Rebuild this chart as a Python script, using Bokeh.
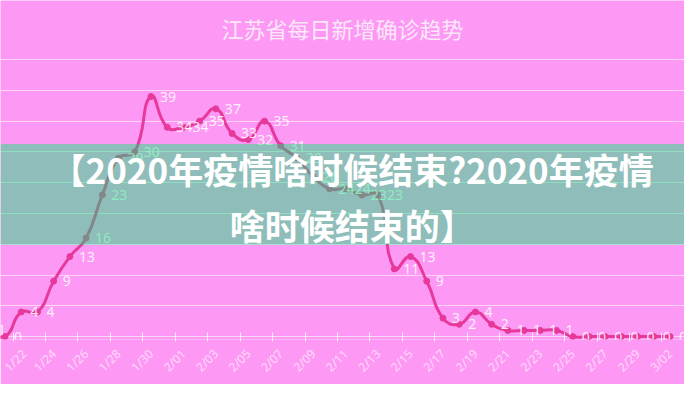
import math
import numpy as np
from bokeh.plotting import figure
from bokeh.models import FixedTicker, BoxAnnotation, Label, Range1d, ColumnDataSource
from bokeh.embed import file_html
from bokeh.resources import INLINE
from bokeh.core.properties import value

# ---------------- data ----------------
dates = ["1/20", "1/21", "1/22", "1/23", "1/24", "1/25", "1/26", "1/27", "1/28", "1/29",
         "1/30", "1/31", "2/01", "2/02", "2/03", "2/04", "2/05", "2/06", "2/07", "2/08",
         "2/09", "2/10", "2/11", "2/12", "2/13", "2/14", "2/15", "2/16", "2/17", "2/18",
         "2/19", "2/20", "2/21", "2/22", "2/23", "2/24", "2/25", "2/26", "2/27", "2/28",
         "2/29", "3/01", "3/02"]
new_cases = [1, 0, 4, 4, 9, 13, 16, 23, 29, 30,
             39, 34, 34, 35, 37, 33, 32, 35, 31, 29,
             26, 24, 24, 23, 23, 11, 13, 9, 3, 2,
             4, 2, 1, 1, 1, 1, 0, 0, 0, 0,
             0, 0, 0]
tick_labels = ["1/22", "1/24", "1/26", "1/28", "1/30", "2/01", "2/03", "2/05", "2/07", "2/09",
               "2/11", "2/13", "2/15", "2/17", "2/19", "2/21", "2/23", "2/25", "2/27", "2/29",
               "3/02"]
y_grid_values = [0, 5, 10, 15, 20, 25, 30, 35, 40, 45]
title_text = "江苏省每日新增确诊趋势"
banner_text = "【2020年疫情啥时候结束?2020年疫情\n啥时候结束的】"

# ---------------- style ----------------
BG = "#fd99f4"
LINE = "#e6399b"
W, H = 684, 384
BOTTOM = 34
X0, X1 = 0.723, 42.89
PX_PER_UNIT = 6.356
Y0 = -3 / PX_PER_UNIT
Y1 = 45 + 61 / PX_PER_UNIT

p = figure(width=W, height=H, output_backend="svg", toolbar_location=None,
           x_range=Range1d(X0, X1), y_range=Range1d(Y0, Y1),
           min_border_left=0, min_border_right=0,
           min_border_top=0, min_border_bottom=BOTTOM)
p.background_fill_color = BG
p.border_fill_color = BG
p.outline_line_color = None

# axes
p.yaxis.visible = False
idx = list(range(len(dates)))
label_pos = [dates.index(t) for t in tick_labels]
p.xaxis.ticker = FixedTicker(ticks=label_pos, minor_ticks=[i - 0.5 for i in label_pos])
p.xaxis.major_label_overrides = {i: dates[i] for i in label_pos}
p.xaxis.major_label_orientation = math.pi / 4
p.xaxis.axis_line_color = None
p.xaxis.major_tick_line_color = None
p.xaxis.minor_tick_line_color = "white"
p.xaxis.minor_tick_line_alpha = 0.8
p.xaxis.minor_tick_in = 7
p.xaxis.minor_tick_out = 2
p.xaxis.major_label_standoff = 6
p.xaxis.major_label_text_color = "white"
p.xaxis.major_label_text_alpha = 0.65
p.xaxis.major_label_text_font = "Noto Sans"
p.xaxis.major_label_text_font_size = "12px"

p.xgrid.visible = False
p.ygrid.ticker = FixedTicker(ticks=y_grid_values)
p.ygrid.grid_line_color = "white"
p.ygrid.grid_line_alpha = 0.6
p.ygrid.grid_line_width = 1

# smooth line (ECharts-like bezier smoothing, computed in pixel space)
sx = W / (X1 - X0)
sy = (H - BOTTOM) / (Y1 - Y0)
px = np.array(idx, dtype=float) * sx
py = np.array(new_cases, dtype=float) * sy
n = len(px)
smooth = 0.5
c0x, c0y = px.copy(), py.copy()
c1x, c1y = px.copy(), py.copy()
for i in range(1, n - 1):
    vx, vy = px[i + 1] - px[i - 1], py[i + 1] - py[i - 1]
    d0 = math.hypot(px[i] - px[i - 1], py[i] - py[i - 1])
    d1 = math.hypot(px[i + 1] - px[i], py[i + 1] - py[i])
    s = d0 + d1
    if s > 0:
        d0 /= s
        d1 /= s
    c0x[i], c0y[i] = px[i] - vx * d0 * smooth, py[i] - vy * d0 * smooth
    c1x[i], c1y[i] = px[i] + vx * d1 * smooth, py[i] + vy * d1 * smooth

seg = ColumnDataSource(dict(
    x0=px[:-1] / sx, y0=py[:-1] / sy, x1=px[1:] / sx, y1=py[1:] / sy,
    cx0=c1x[:-1] / sx, cy0=c1y[:-1] / sy, cx1=c0x[1:] / sx, cy1=c0y[1:] / sy))
p.bezier("x0", "y0", "x1", "y1", "cx0", "cy0", "cx1", "cy1", source=seg,
         line_color=LINE, line_width=3)

pts = ColumnDataSource(dict(x=idx, y=new_cases, t=[str(v) for v in new_cases]))
p.scatter("x", "y", source=pts, size=6, fill_color=LINE, line_color=LINE)
p.text("x", "y", text="t", source=pts, x_offset=9, text_align="left", text_baseline="middle",
       text_color="white", text_alpha=0.85, text_font=value("Noto Sans"), text_font_size="14px")

# overlay banner
p.add_layout(BoxAnnotation(bottom=14.9, top=31.3, fill_color="#08e974", fill_alpha=0.45,
                           line_color=None, level="overlay"))
p.add_layout(Label(x=22.4, y=22.7, text=banner_text, text_align="center", text_baseline="middle",
                   text_color="white", text_font="Noto Sans CJK SC", text_font_style="bold",
                   text_font_size="35px", text_line_height=1.1, level="overlay"))

# title (drawn inside the frame area above the top gridline)
p.add_layout(Label(x=(X0 + X1) / 2, y=50.2, text=title_text, text_align="center",
                   text_baseline="middle", text_color="#fbe6fa",
                   text_font="Noto Sans CJK SC", text_font_size="22px"))

open("out.html", "w").write(file_html(p, INLINE))
